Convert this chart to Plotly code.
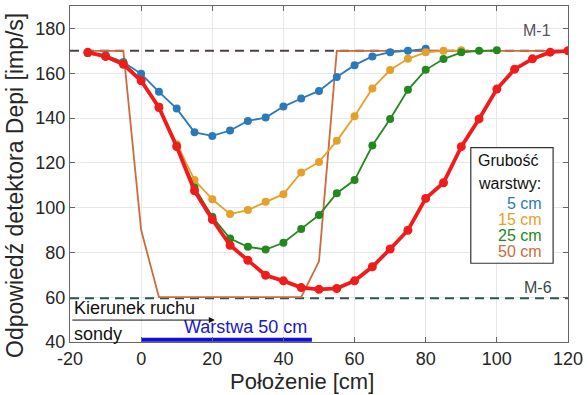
import plotly.graph_objects as go

# ---------------- data ----------------
x_blue = [-15, -10, -5, 0, 5, 10, 15, 20, 25, 30, 35, 40, 45, 50, 55, 60, 65, 70, 75, 80]
y_blue = [169, 168, 165, 159.7, 151.7, 144.2, 133.6, 132, 134.4, 138.7, 140.2, 145.1, 148.7,
          152.1, 158.3, 163.6, 167.5, 169.4, 170, 170.9]

x_orange = [-15, -10, -5, 0, 5, 10, 15, 20, 25, 30, 35, 40, 45, 50, 55, 60, 65, 70, 75, 80, 85, 90]
y_orange = [169, 167.5, 164.5, 157, 145, 128.3, 112.3, 103.7, 97.1, 98.9, 102.6, 106, 115.7,
            120.4, 129.8, 140.8, 153.2, 161.4, 166.4, 169.3, 170, 170.2]

x_green = [-15, -10, -5, 0, 5, 10, 15, 20, 25, 30, 35, 40, 45, 50, 55, 60, 65, 70, 75, 80,
           85, 90, 95, 100]
y_green = [169, 167.5, 164.5, 157, 145, 127.5, 109, 95.9, 86.2, 82.5, 81.3, 84.3, 90.5, 96.7,
           106.4, 112.3, 127.7, 139.6, 152.6, 161.5, 166.3, 169.3, 170, 170.2]

x_red = [-15, -10, -5, 0, 5, 10, 15, 20, 25, 30, 35, 40, 45, 50, 55, 60, 65, 70, 75, 80,
         85, 90, 95, 100, 105, 110, 115, 120]
y_red = [169.3, 167.5, 164, 156.6, 144.7, 127.2, 107.5, 94.7, 83.2, 76.5, 69.8, 67.3, 64.3,
         63.5, 63.9, 67.3, 73.6, 81.5, 89.9, 104.1, 111.1, 127.2, 139.6, 152.9, 161.8, 166.4,
         169.4, 170]

x_step = [-15, -5, 0, 5, 45, 50, 55, 120]
y_step = [170, 170, 90, 60, 60, 76, 170, 170]

ref_x = [-20, 120]
m1_level = 170
m6_level = 59.5

layer_x = [0, 48]
layer_y = [41, 41]

x_ticks = [-20, 0, 20, 40, 60, 80, 100, 120]
y_ticks = [40, 60, 80, 100, 120, 140, 160, 180]

legend_labels = ["5 cm", "15 cm", "25 cm", "50 cm"]

# ---------------- styles ----------------
C_BLUE = "#2a7ab9"
C_ORANGE = "#e6a02a"
C_GREEN = "#22891f"
C_STEP = "#cc6b3c"
C_RED = "#f01c1c"
FONT = "Arial, Liberation Sans, sans-serif"

W, H = 588, 395
L, R, T, B = 70, 16, 5, 53
PW, PH = W - L - R, H - T - B


def px(xp):
    return (xp - L) / PW


def py(yp):
    return (H - B - yp) / PH


def txt(text, x, y, size, color, xanchor="center", **kw):
    return dict(text=text, x=px(x), y=py(y), xref="paper", yref="paper",
                xanchor=xanchor, yanchor="middle", showarrow=False,
                font=dict(size=size, color=color, family=FONT), **kw)


fig = go.Figure()

fig.add_trace(go.Scatter(x=ref_x, y=[m1_level] * 2, mode="lines",
                         line=dict(color="#4b3f4b", width=2, dash="9px,6px"), hoverinfo="skip"))
fig.add_trace(go.Scatter(x=ref_x, y=[m6_level] * 2, mode="lines",
                         line=dict(color="#2f5252", width=2, dash="9px,6px"), hoverinfo="skip"))

fig.add_trace(go.Scatter(x=x_step, y=y_step, mode="lines", line=dict(color=C_STEP, width=1.8)))
fig.add_trace(go.Scatter(x=x_blue, y=y_blue, mode="lines+markers",
                         line=dict(color=C_BLUE, width=1.8), marker=dict(color=C_BLUE, size=8)))
fig.add_trace(go.Scatter(x=x_orange, y=y_orange, mode="lines+markers",
                         line=dict(color=C_ORANGE, width=1.8), marker=dict(color=C_ORANGE, size=8)))
fig.add_trace(go.Scatter(x=x_green, y=y_green, mode="lines+markers",
                         line=dict(color=C_GREEN, width=1.8), marker=dict(color=C_GREEN, size=8)))
fig.add_trace(go.Scatter(x=x_red, y=y_red, mode="lines+markers",
                         line=dict(color=C_RED, width=3.8), marker=dict(color=C_RED, size=9)))

fig.add_trace(go.Scatter(x=layer_x, y=layer_y, mode="lines",
                         line=dict(color="#1010d8", width=4), hoverinfo="skip"))

annotations = [
    txt("Odpowiedź detektora Depi [imp/s]", 15, 185, 23, "#262626", textangle=-90),
    txt("Położenie [cm]", 304, 382, 22, "#262626"),
    txt("M-1", 557, 30, 16, "#5a4f5e", xanchor="right"),
    txt("M-6", 558, 287, 16, "#3a4a4a", xanchor="right"),
    txt("Kierunek ruchu", 72, 308, 18, "#111111", xanchor="left"),
    txt("sondy", 72, 334, 18, "#111111", xanchor="left"),
    txt("Warstwa 50 cm", 247, 327, 18, "#1a1ac0"),
    dict(text="", x=px(216), y=py(320), ax=-144, ay=0, xref="paper", yref="paper",
         showarrow=True, arrowhead=2, arrowsize=1.2, arrowwidth=1, arrowcolor="#111111"),
    txt("Grubość", 479, 160, 16, "#111111", xanchor="left"),
    txt("warstwy:", 479, 183, 16, "#111111", xanchor="left"),
]
leg_colors = [C_BLUE, C_ORANGE, C_GREEN, C_STEP]
leg_y = [203, 219, 235, 251]
for lab, col, yy in zip(legend_labels, leg_colors, leg_y):
    annotations.append(txt(lab, 548, yy, 16, col, xanchor="right"))

fig.add_shape(type="rect", xref="paper", yref="paper", x0=px(474), x1=px(557),
              y0=py(263), y1=py(147), line=dict(color="#333333", width=1.2),
              fillcolor="white", layer="above")

axis_common = dict(showgrid=True, gridcolor="#e8e8e8", gridwidth=1, zeroline=False,
                   showline=True, linecolor="#666666", linewidth=1, mirror="allticks",
                   ticks="inside", ticklen=5, tickcolor="#666666",
                   tickfont=dict(size=18, color="#262626", family=FONT))

fig.update_layout(
    width=W, height=H, margin=dict(l=L, r=R, t=T, b=B),
    paper_bgcolor="white", plot_bgcolor="white", showlegend=False,
    xaxis=dict(range=[-20, 120], tickvals=x_ticks, ticktext=[str(v) for v in x_ticks], **axis_common),
    yaxis=dict(range=[40, 190], tickvals=y_ticks, ticktext=[str(v) for v in y_ticks], **axis_common),
    annotations=annotations,
)

fig.write_html("out.html", config={"displayModeBar": False},
               post_script="document.body.style.margin='0';")
